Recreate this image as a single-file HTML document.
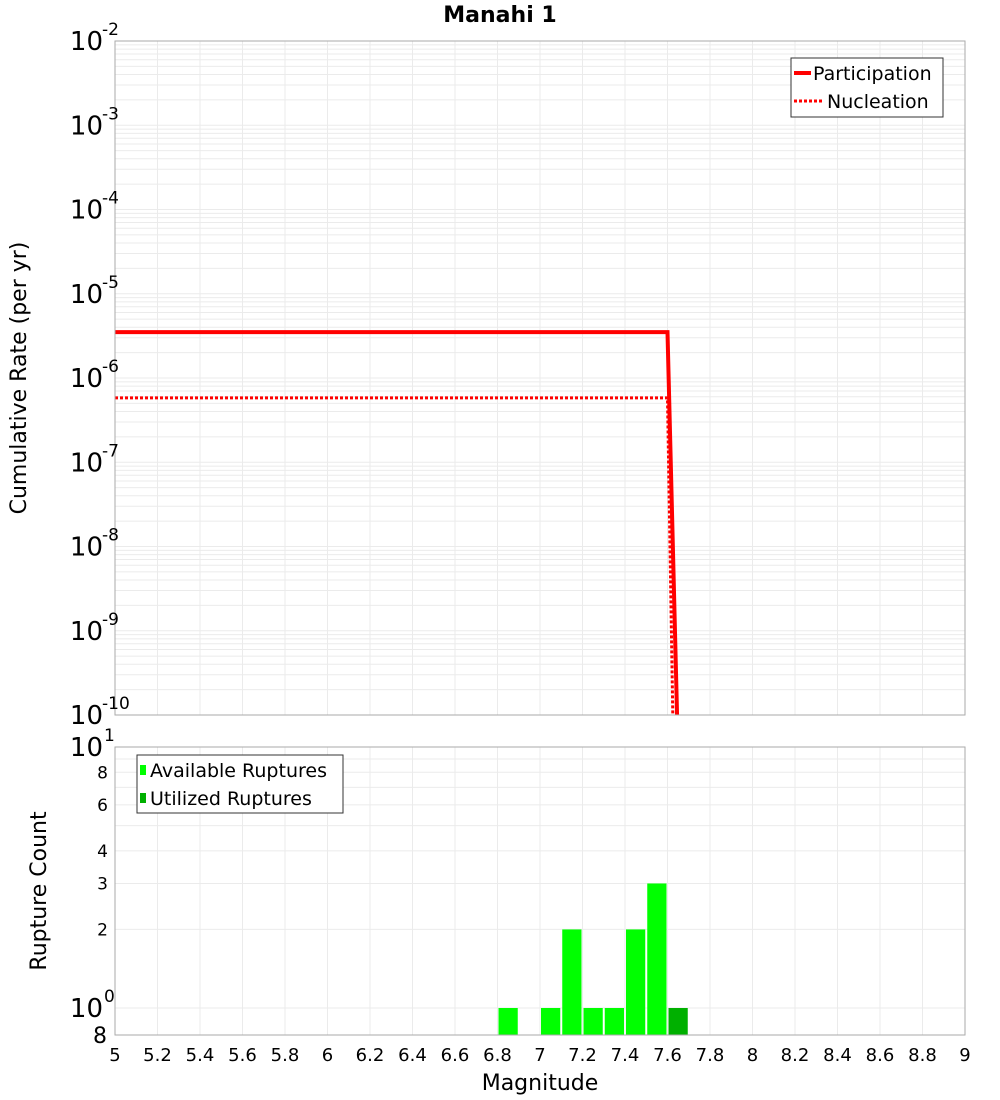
<!DOCTYPE html>
<html><head><meta charset="utf-8"><style>
body{margin:0;background:#fff;}
svg{display:block;font-family:"DejaVu Sans","Liberation Sans",sans-serif;}
</style></head><body>
<svg id="c" width="1000" height="1100"></svg>
<script>
const mags=[6.85,7.05,7.15,7.25,7.35,7.45,7.55,7.65];
const availCounts=[1,1,2,1,1,2,3,0];
const usedCounts=[0,0,0,0,0,0,0,1];
const partX=[5,7.6,7.645];
const partY=[3.5e-6,3.5e-6,1e-10];
const nuclX=[5,7.6,7.625];
const nuclY=[5.8e-7,5.8e-7,1e-10];
const xTicks=[5,5.2,5.4,5.6,5.8,6,6.2,6.4,6.6,6.8,7,7.2,7.4,7.6,7.8,8,8.2,8.4,8.6,8.8,9];
const xTickLabels=["5","5.2","5.4","5.6","5.8","6","6.2","6.4","6.6","6.8","7","7.2","7.4","7.6","7.8","8","8.2","8.4","8.6","8.8","9"];
const topExps=[-2,-3,-4,-5,-6,-7,-8,-9,-10];
const botTicks=[8,6,4,3,2];

const svg=document.getElementById('c');
const NS='http://www.w3.org/2000/svg';
function mk(tag,attrs,parent){const e=document.createElementNS(NS,tag);for(const k in attrs)e.setAttribute(k,attrs[k]);(parent||svg).appendChild(e);return e;}
const L=115,R=965;
const T1=41,B1=715, T2=747,B2=1035;
const x=m=>L+(m-5)/4*(R-L);
const y1=v=>T1+(-2-Math.log10(v))/8*(B1-T1);
const yb=v=>1008-Math.log10(v)*261;

let t=mk('text',{x:500,y:22,'text-anchor':'middle','font-size':22,'font-weight':'bold'});
t.textContent='Manahi 1';



const g1=mk('g',{stroke:'#ebebeb','stroke-width':1});


for(let e=-10;e<-2;e++)for(let k=1;k<10;k++){const yy=y1(k*Math.pow(10,e));mk('line',{x1:L,x2:R,y1:yy,y2:yy},g1);}
xTicks.forEach(m=>mk('line',{x1:x(m),x2:x(m),y1:T1,y2:B1},g1));
const g2=mk('g',{stroke:'#ebebeb','stroke-width':1});


for(let k=1;k<=10;k++){const yy=yb(k);mk('line',{x1:L,x2:R,y1:yy,y2:yy},g2);}
xTicks.forEach(m=>mk('line',{x1:x(m),x2:x(m),y1:T2,y2:B2},g2));

function path(xs,ys){return xs.map((v,i)=>(i?'L':'M')+x(v)+','+y1(ys[i])).join(' ');}
let p=mk('path',{d:path(partX,partY),fill:'none',stroke:'#ff0000','stroke-width':4});


p=mk('path',{d:path(nuclX,nuclY),fill:'none',stroke:'#ff0000','stroke-width':3,'stroke-dasharray':'3,2'});



const bw=(R-L)/40;
mags.forEach((m,i)=>{
  if(availCounts[i]>0){const r=mk('rect',{x:x(m)-bw/2+1,y:yb(availCounts[i]),width:bw-2,height:B2-yb(availCounts[i]),fill:'#00ff00'});
    
    }
  if(usedCounts[i]>0){const r=mk('rect',{x:x(m)-bw/2+1,y:yb(usedCounts[i]),width:bw-2,height:B2-yb(usedCounts[i]),fill:'#00b000'});
    
    }
});

mk('rect',{x:L,y:T1,width:R-L,height:B1-T1,fill:'none',stroke:'#aaa'});
mk('rect',{x:L,y:T2,width:R-L,height:B2-T2,fill:'none',stroke:'#aaa'});

topExps.forEach(e=>{
  const yy=y1(Math.pow(10,e));
  const tt=mk('text',{x:103,y:yy+9,'text-anchor':'end','font-size':26});
  
  
  tt.textContent='10';
  const s=mk('text',{x:102,y:yy-6,'font-size':17});
  s.textContent=String(e);
  
  
});
[[10,'1'],[1,'0']].forEach(([v,ex])=>{
  const yy=yb(v);
  const tt=mk('text',{x:103,y:yy+9,'text-anchor':'end','font-size':26});
  tt.textContent='10';
  
  
  const s=mk('text',{x:104,y:yy-6,'font-size':17});s.textContent=ex;
  
  
});
botTicks.forEach(v=>{
  const tt=mk('text',{x:108,y:yb(v)+6,'text-anchor':'end','font-size':17});
  tt.textContent=String(v);
  
  
});
let e8=mk('text',{x:107,y:1043,'text-anchor':'end','font-size':22});e8.textContent='8';



xTicks.forEach((m,i)=>{
  const tt=mk('text',{x:x(m),y:1061,'text-anchor':'middle','font-size':18});
  tt.textContent=xTickLabels[i];
  
  
});
t=mk('text',{x:540,y:1090,'text-anchor':'middle','font-size':22});t.textContent='Magnitude';


t=mk('text',{x:0,y:0,'text-anchor':'middle','font-size':22,transform:'translate(26,378) rotate(-90)'});t.textContent='Cumulative Rate (per yr)';


t=mk('text',{x:0,y:0,'text-anchor':'middle','font-size':22,transform:'translate(46,891) rotate(-90)'});t.textContent='Rupture Count';



const lg=mk('g',{});


mk('rect',{x:791,y:58,width:152,height:59,fill:'#fff',stroke:'#333'},lg);
mk('line',{x1:794,x2:811,y1:73,y2:73,stroke:'#f00','stroke-width':4},lg);
mk('line',{x1:794,x2:822,y1:101,y2:101,stroke:'#f00','stroke-width':3,'stroke-dasharray':'3,2'},lg);
t=mk('text',{x:813,y:80,'font-size':19},lg);t.textContent='Participation';
t=mk('text',{x:827,y:108,'font-size':19},lg);t.textContent='Nucleation';
const lb=mk('g',{});


mk('rect',{x:137,y:755,width:206,height:58,fill:'#fff',stroke:'#333'},lb);
mk('rect',{x:140,y:765,width:6,height:10,fill:'#00ff00'},lb);
mk('rect',{x:140,y:793,width:6,height:10,fill:'#00b000'},lb);
t=mk('text',{x:150,y:777,'font-size':19},lb);t.textContent='Available Ruptures';
t=mk('text',{x:150,y:805,'font-size':19},lb);t.textContent='Utilized Ruptures';
</script>
</body></html>
